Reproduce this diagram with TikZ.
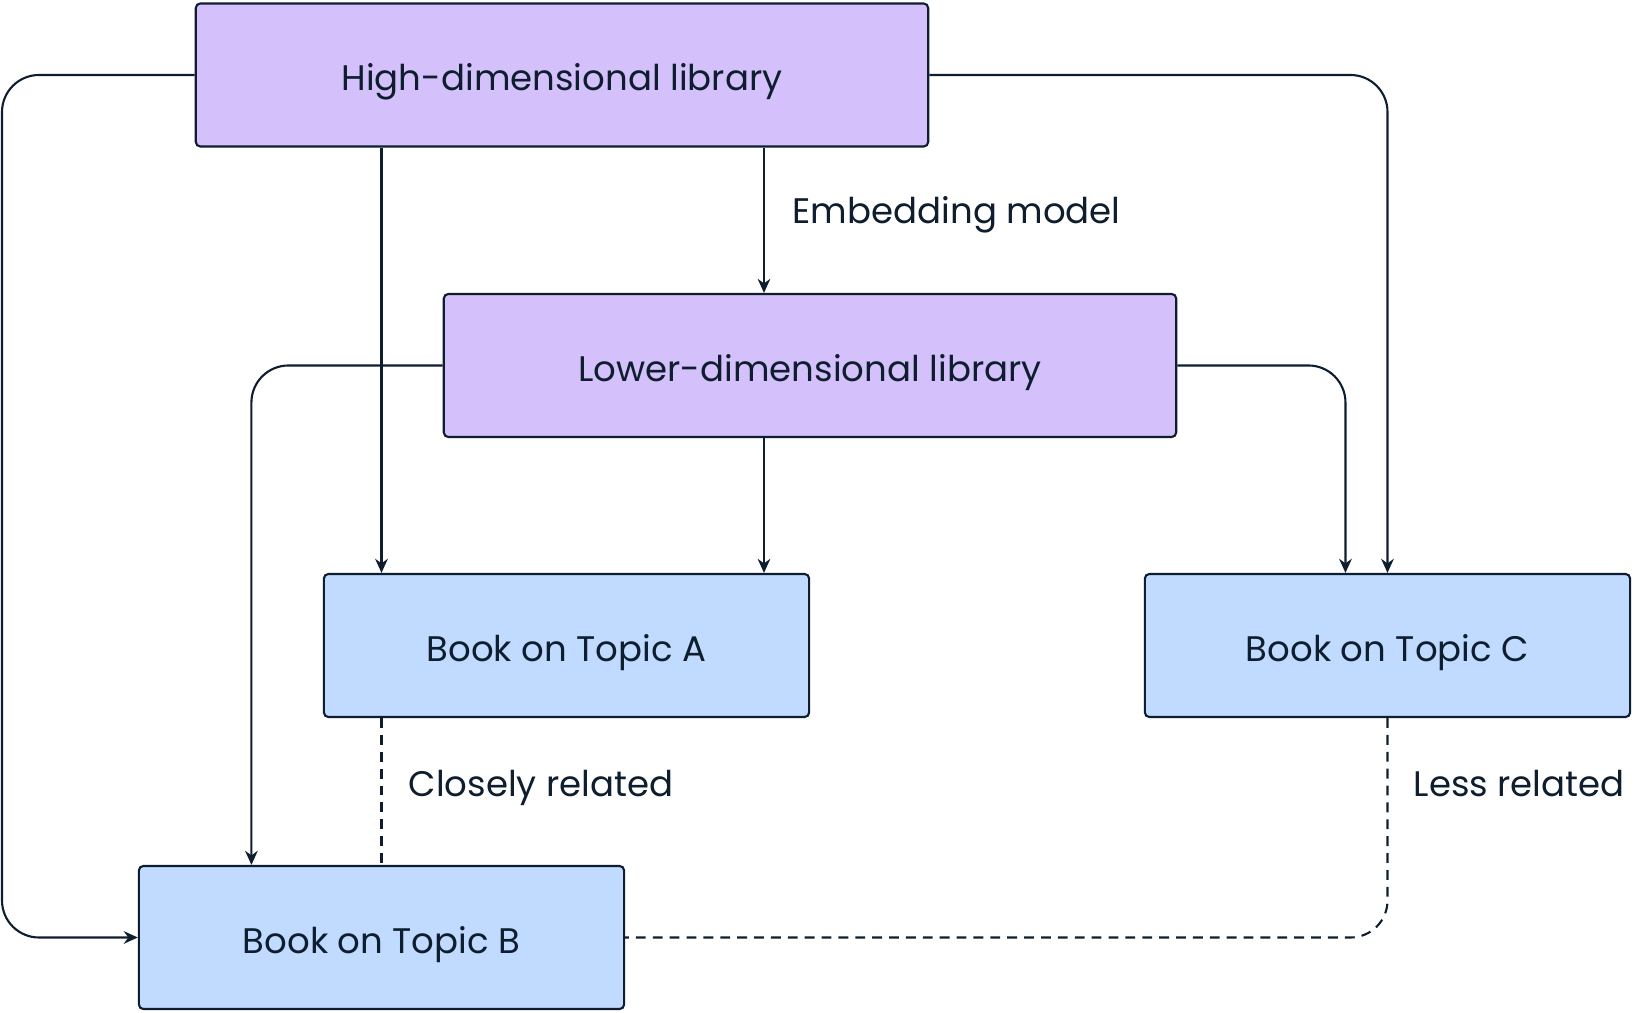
\documentclass[tikz,border=0pt]{standalone}
\usepackage{fontspec}
\setmainfont{Poppins}
\usepackage{xcolor}
\usepackage{tikz}
\usetikzlibrary{arrows.meta,positioning,calc}
\definecolor{ink}{RGB}{14,30,46}
\definecolor{lila}{RGB}{212,192,250}
\definecolor{lblau}{RGB}{192,219,255}

\begin{document}
\begin{tikzpicture}[x=0.01cm,y=-0.01cm,
    lib/.style={draw=ink,line width=0.6pt,fill=lila,rounded corners=1.3pt,minimum width=7.32cm,minimum height=1.43cm,font=\fontsize{10.1}{12}\selectfont,text=ink,text height=0.9em,text depth=0pt},
    book/.style={draw=ink,line width=0.6pt,fill=lblau,rounded corners=1.3pt,minimum width=4.85cm,minimum height=1.43cm,font=\fontsize{10.1}{12}\selectfont,text=ink,text height=0.9em,text depth=0pt},
    conn/.style={draw=ink,line width=0.6pt,rounded corners=0.37cm,-{Stealth[length=4pt,width=3.6pt]}},
    rel/.style={draw=ink,line width=0.6pt,rounded corners=0.37cm,dash pattern=on 2.8pt off 2pt},
    lbl/.style={anchor=base west,inner sep=0pt,font=\fontsize{10.1}{12}\selectfont,text=ink}]
  \useasboundingbox (0,0) rectangle (1650,1013);

  % boxes
  \node[lib] (high) at (562,75) {High-dimensional library};
  \node[lib] (low) at (810,365.5) {Lower-dimensional library};
  \node[book] (a) at (566.5,645.5) {Book on Topic A};
  \node[book] (c) at (1387.5,645.5) {Book on Topic C};
  \node[book] (b) at (381.5,937.5) {Book on Topic B};

  \coordinate (lt) at (2,75);
  \coordinate (emb) at (764,0);

  % arrows
  \draw[conn] (high.west) -- (lt) |- (b.west);
  \draw[conn] (high.east) -| (c.north);
  \draw[conn] (high.south -| b.north) -- (a.north -| b.north);
  \draw[conn] (high.south -| emb) -- (low.north -| emb);
  \draw[conn] (low.south -| emb) -- (a.north -| emb);
  \draw[conn] (low.west) -| ([xshift=-1.3cm]b.north);
  \draw[conn] (low.east) -| ([xshift=-0.42cm]c.north);

  % relations
  \draw[rel] (a.south -| b.north) -- (b.north);
  \draw[rel] (c.south) |- (b.east);

  \node[lbl] (embl) at (792,224) {Embedding model};
  \node[lbl] (closel) at (408,797) {Closely related};
  \node[lbl] (lessl) at (1413,797) {Less related};
\end{tikzpicture}
\end{document}
